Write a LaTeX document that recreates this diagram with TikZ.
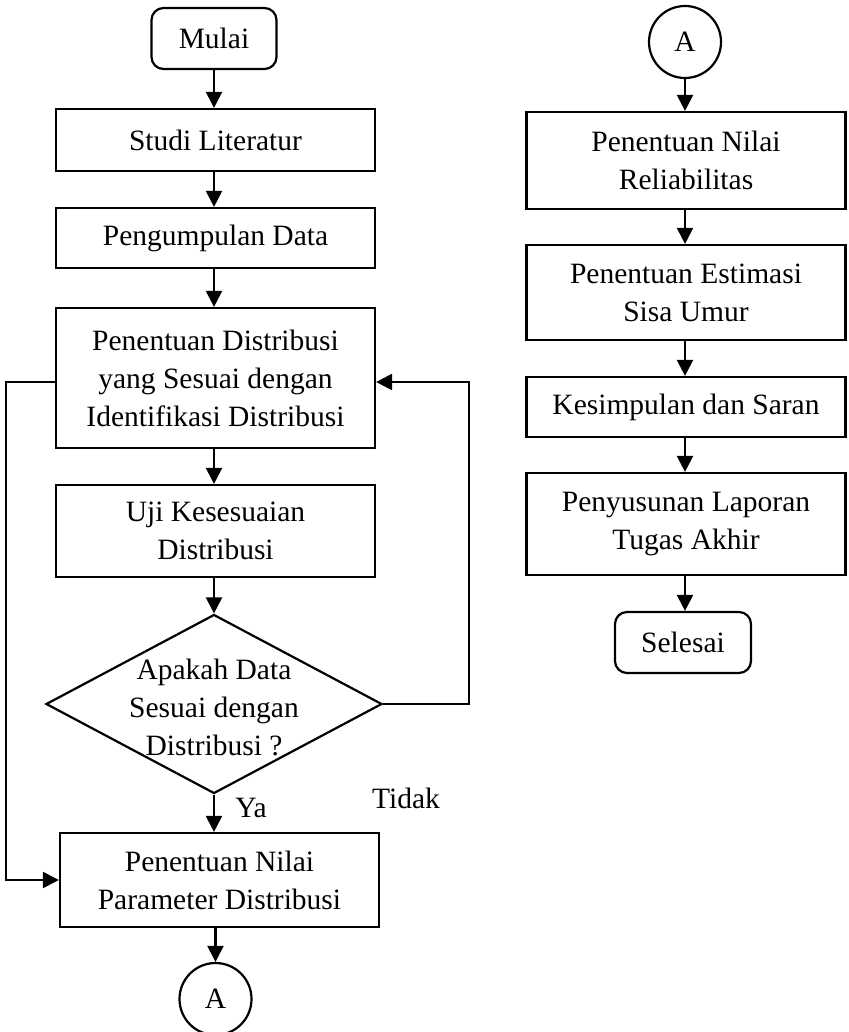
\documentclass[tikz,border=0pt]{standalone}
\usepackage{fontspec}
\setmainfont{Liberation Serif}
\usetikzlibrary{arrows.meta,shapes.geometric}
\begin{document}
\begin{tikzpicture}[x=1pt,y=-1pt,line width=2.2pt,
  every node/.style={font=\fontsize{29.5}{38}\selectfont},
  box/.style={draw,rectangle,align=center,inner sep=0pt,minimum width=319pt},
  term/.style={draw,rectangle,rounded corners=12pt,align=center,inner sep=0pt,minimum height=61pt},
  conn/.style={draw,circle,minimum size=72pt,inner sep=0pt},
  arr/.style={-{Triangle[length=16pt,width=16pt]}}]
\useasboundingbox (0,0) rectangle (848,1032);
% left column
\node[term,minimum width=125pt] (mulai) at (214,38.5) {Mulai};
\node[box,minimum height=62pt] (studi) at (215.5,140) {Studi Literatur};
\node[box,minimum height=60pt] (kumpul) at (215.5,238) {Pengumpulan Data};
\node[box,minimum height=140pt] (distr) at (215.5,378) {Penentuan Distribusi\\yang Sesuai dengan\\Identifikasi Distribusi};
\node[box,minimum height=92pt] (uji) at (215.5,531) {Uji Kesesuaian\\Distribusi};
\node[draw,diamond,minimum width=336pt,minimum height=179pt,inner sep=0pt] (dec) at (214,704) {};
\node[align=center] (dectext) at (214,707) {Apakah Data\\Sesuai dengan\\Distribusi ?};
\node[box,minimum height=94pt] (param) at (219.5,880) {Penentuan Nilai\\Parameter Distribusi};
\node[conn] (a1) at (215.5,999) {A};
\node (ya) at (251,808) {Ya};
\node (tidak) at (406,798) {Tidak};
% right column
\node[conn] (a2) at (685,42) {A};
\node[box,minimum height=97pt] (rel) at (686,160.5) {Penentuan Nilai\\Reliabilitas};
\node[box,minimum height=95pt] (est) at (686,292.5) {Penentuan Estimasi\\Sisa Umur};
\node[box,minimum height=60pt] (kes) at (686,407) {Kesimpulan dan Saran};
\node[box,minimum height=102pt] (lap) at (686,524) {Penyusunan Laporan\\Tugas Akhir};
\node[term,minimum width=136pt] (sel) at (683,642.5) {Selesai};
% connectors left
\draw[arr] (mulai.south) -- (mulai.south |- studi.north);
\draw[arr] (mulai.south |- studi.south) -- (mulai.south |- kumpul.north);
\draw[arr] (mulai.south |- kumpul.south) -- (mulai.south |- distr.north);
\draw[arr] (mulai.south |- distr.south) -- (mulai.south |- uji.north);
\draw[arr] (mulai.south |- uji.south) -- (dec.north);
\draw[arr] (dec.south) -- (dec.south |- param.north);
\draw[arr] (a1.north |- param.south) -- (a1.north);
\draw[arr] ([yshift=-4pt]distr.west) -- ++(-49,0) |- (param.west);
\draw[arr] (dec.east) -- ++(86,0) |- ([yshift=-4pt]distr.east);
% connectors right
\draw[arr] (a2.south) -- (a2.south |- rel.north);
\draw[arr] (a2.south |- rel.south) -- (a2.south |- est.north);
\draw[arr] (a2.south |- est.south) -- (a2.south |- kes.north);
\draw[arr] (a2.south |- kes.south) -- (a2.south |- lap.north);
\draw[arr] (a2.south |- lap.south) -- (a2.south |- sel.north);
\end{tikzpicture}
\end{document}
